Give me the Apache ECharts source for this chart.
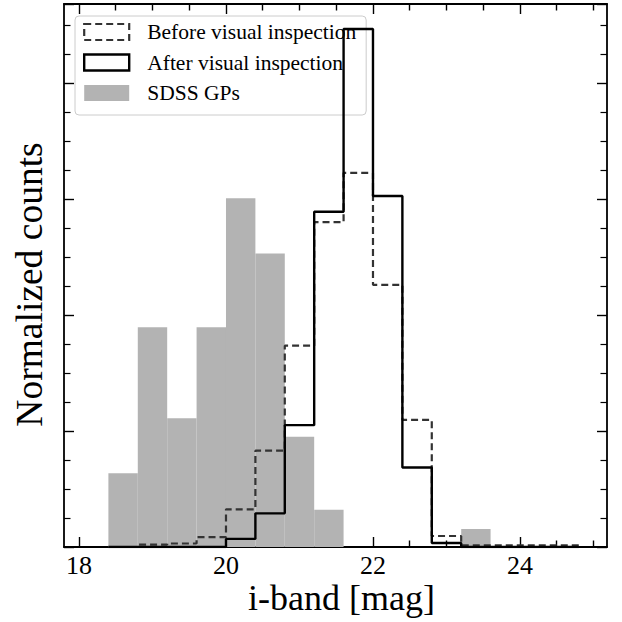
<!DOCTYPE html>
<html>
<head>
<meta charset="utf-8">
<script src="https://cdn.jsdelivr.net/npm/echarts@6/dist/echarts.min.js"></script>
<style>html,body{margin:0;padding:0;background:#fff}#c{width:622px;height:622px}</style>
</head>
<body>
<div id="c"></div>
<script>
// Bin edges (i-band magnitude)
var binEdges = [18.4, 18.8, 19.2, 19.6, 20.0, 20.4, 20.8, 21.2, 21.6, 22.0, 22.4, 22.8, 23.2, 23.6, 24.0, 24.4, 24.8];
// Normalized counts per bin
var sdssGPs = [0.127, 0.379, 0.222, 0.379, 0.601, 0.506, 0.190, 0.064, 0, 0, 0, 0, 0.031, 0, 0, 0];
var beforeInspection = [0, 0.004, 0.006, 0.017, 0.065, 0.166, 0.347, 0.560, 0.645, 0.452, 0.219, 0.019, 0.003, 0.003, 0.003, 0.003];
var afterInspection = [0, 0, 0, 0, 0.014, 0.058, 0.210, 0.578, 0.893, 0.605, 0.137, 0.007, 0, 0, 0, 0];
// Tick values
var xMajorTicks = [18, 20, 22, 24];
var xMinorTicks = [18.5, 19, 19.5, 20.5, 21, 21.5, 22.5, 23, 23.5, 24.5, 25];
var seriesNames = ['Before visual inspection', 'After visual inspection', 'SDSS GPs'];
var xTitle = 'i-band [mag]';
var yTitle = 'Normalized counts';

var FONT = 'Liberation Serif';
var X_MIN = 17.796, X_MAX = 25.184, Y_MAX = 0.936;

function stepOutline(edges, h) {
  var pts = [[edges[0], 0]];
  for (var i = 0; i < h.length; i++) {
    pts.push([edges[i], h[i]]);
    pts.push([edges[i + 1], h[i]]);
  }
  pts.push([edges[edges.length - 1], 0]);
  return pts;
}
var barData = sdssGPs.map(function (v, i) { return [binEdges[i], binEdges[i + 1], v]; });

function xAx(pos, ticks, len, showLine, showLabel) {
  return {
    type: 'value', position: pos, min: X_MIN, max: X_MAX,
    axisLine: { show: showLine, lineStyle: { color: '#000', width: 1.8 } },
    axisTick: { show: true, inside: true, length: len, customValues: ticks, lineStyle: { color: '#000', width: 1.4 } },
    axisLabel: { show: showLabel, customValues: ticks, margin: 7.5, fontFamily: FONT, fontSize: 26, lineHeight: 22, color: '#000' },
    splitLine: { show: false }
  };
}
function yAx(pos) {
  return {
    type: 'value', position: pos, min: 0, max: Y_MAX, interval: 0.2,
    axisLine: { show: true, lineStyle: { color: '#000', width: 1.8 } },
    axisTick: { show: true, inside: true, length: 10, lineStyle: { color: '#000', width: 1.4 } },
    minorTick: { show: true, splitNumber: 4, length: 6.5, lineStyle: { color: '#000', width: 1.2 } },
    axisLabel: { show: false },
    splitLine: { show: false }
  };
}

var xAxes = [xAx('bottom', xMajorTicks, 10, true, true), xAx('bottom', xMinorTicks, 6.5, false, false),
             xAx('top', xMajorTicks, 10, true, false), xAx('top', xMinorTicks, 6.5, false, false)];
xAxes[0].name = xTitle;
xAxes[0].nameLocation = 'middle';
xAxes[0].nameGap = 34.5;
xAxes[0].nameMoveOverlap = false;
xAxes[0].nameTextStyle = { fontFamily: FONT, fontSize: 36, lineHeight: 33, color: '#000', padding: [0, 0, 0, 12] };
var yAxes = [yAx('left'), yAx('right')];
yAxes[0].name = yTitle;
yAxes[0].nameLocation = 'middle';
yAxes[0].nameGap = 16;
yAxes[0].nameMoveOverlap = false;
yAxes[0].nameTextStyle = { fontFamily: FONT, fontSize: 37.5, color: '#000', padding: [0, 18, 0, 0] };

var chart = echarts.init(document.getElementById('c'), null, { renderer: 'svg' });
chart.setOption({
  animation: false,
  backgroundColor: '#fff',
  grid: { left: 64, right: 15, top: 4, bottom: 75, containLabel: false, outerBoundsMode: 'none' },
  xAxis: xAxes,
  yAxis: yAxes,
  legend: {
    left: 75, top: 16, orient: 'vertical',
    padding: [4, 10, 10, 8],
    itemWidth: 45, itemHeight: 16, itemGap: 6.5,
    backgroundColor: 'rgba(255,255,255,0.8)',
    borderColor: '#cccccc', borderWidth: 1, borderRadius: 4,
    textStyle: { fontFamily: FONT, fontSize: 21.5, color: '#000', lineHeight: 24, padding: [0, 0, 0, 13] },
    data: [
      { name: seriesNames[0], icon: 'rect', itemStyle: { color: 'rgba(255,255,255,0)', borderColor: '#333', borderWidth: 2.2, borderType: [7, 4] } },
      { name: seriesNames[1], icon: 'rect', itemStyle: { color: 'rgba(255,255,255,0)', borderColor: '#000', borderWidth: 2.4 } },
      { name: seriesNames[2], icon: 'rect', itemStyle: { color: '#b3b3b3', borderWidth: 0 } }
    ]
  },
  series: [
    {
      name: seriesNames[2], type: 'custom', xAxisIndex: 0, yAxisIndex: 0, z: 1,
      itemStyle: { color: '#b3b3b3' },
      data: barData,
      encode: { x: [0, 1], y: 2 },
      renderItem: function (params, api) {
        var p0 = api.coord([api.value(0), api.value(2)]);
        var p1 = api.coord([api.value(1), 0]);
        return { type: 'rect', shape: { x: p0[0], y: p0[1], width: p1[0] - p0[0], height: p1[1] - p0[1] }, style: { fill: '#b3b3b3' } };
      }
    },
    {
      name: seriesNames[0], type: 'line', xAxisIndex: 0, yAxisIndex: 0, z: 3,
      data: stepOutline(binEdges, beforeInspection),
      showSymbol: false, symbol: 'none',
      lineStyle: { color: '#333', width: 2.2, type: [7, 4] },
      itemStyle: { color: '#333' }
    },
    {
      name: seriesNames[1], type: 'line', xAxisIndex: 0, yAxisIndex: 0, z: 4,
      data: stepOutline(binEdges, afterInspection),
      showSymbol: false, symbol: 'none',
      lineStyle: { color: '#000', width: 2.4 },
      itemStyle: { color: '#000' }
    }
  ]
});
</script>
</body>
</html>
